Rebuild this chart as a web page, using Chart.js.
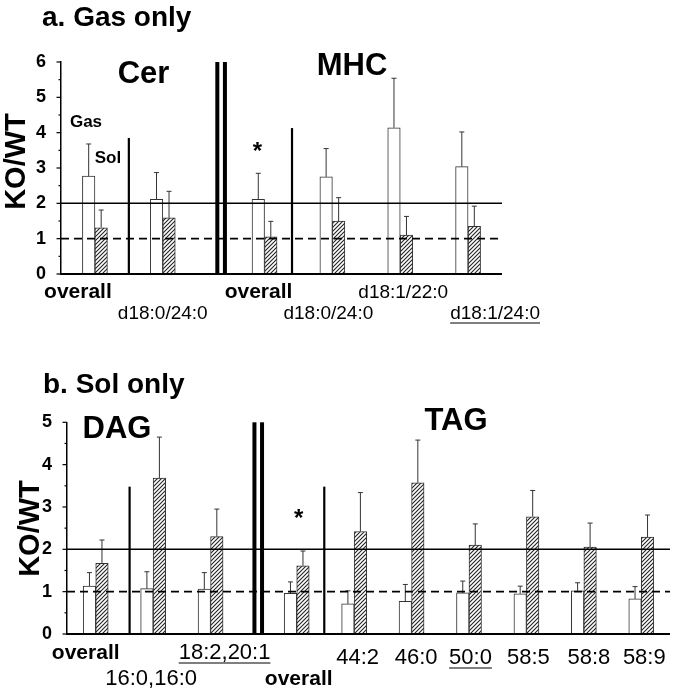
<!DOCTYPE html>
<html><head><meta charset="utf-8">
<script src="https://cdn.jsdelivr.net/npm/chart.js@4.4.0/dist/chart.umd.min.js"></script>
<style>
html,body{margin:0;padding:0;background:#fff;}
#wrap{position:relative;width:675px;height:692px;overflow:hidden;}
#wrap canvas{position:absolute;left:0;top:0;}
</style></head><body>
<div id="wrap"><canvas id="ca" width="675" height="692"></canvas><canvas id="cb" width="675" height="692"></canvas></div>
<script>
// ---------- data: panel a (Gas only) ----------
const catsA   = ['', 'overall', '', 'd18:0/24:0', '', '', 'overall', '', 'd18:0/24:0', '', 'd18:1/22:0', '', 'd18:1/24:0', ''];
const gasA    = [null, 2.77, null, 2.11, null, null, 2.11, null, 2.75, null, 4.14, null, 3.04, null];
const gasErrA = [null, 0.91, null, 0.76, null, null, 0.74, null, 0.80, null, 1.40, null, 0.98, null];
const solA    = [null, 1.31, null, 1.59, null, null, 1.05, null, 1.50, null, 1.10, null, 1.35, null];
const solErrA = [null, 0.50, null, 0.75, null, null, 0.44, null, 0.66, null, 0.53, null, 0.57, null];
const yTicksA = [0, 1, 2, 3, 4, 5, 6];

// ---------- data: panel b (Sol only) ----------
const catsB   = ['', 'overall', '', '16:0,16:0', '', '18:2,20:1', '', '', 'overall', '', '44:2', '', '46:0', '', '50:0', '', '58:5', '', '58:8', '', '58:9', ''];
const gasB    = [null, 1.13, null, 1.07, null, 1.06, null, null, 0.96, null, 0.71, null, 0.77, null, 0.97, null, 0.95, null, 1.02, null, 0.83, null];
const gasErrB = [null, 0.32, null, 0.40, null, 0.39, null, null, 0.27, null, 0.31, null, 0.40, null, 0.28, null, 0.18, null, 0.19, null, 0.29, null];
const solB    = [null, 1.67, null, 3.68, null, 2.30, null, null, 1.61, null, 2.42, null, 3.57, null, 2.10, null, 2.77, null, 2.05, null, 2.29, null];
const solErrB = [null, 0.55, null, 0.97, null, 0.65, null, null, 0.35, null, 0.92, null, 1.01, null, 0.50, null, 0.62, null, 0.57, null, 0.52, null];
const yTicksB = [0, 1, 2, 3, 4, 5];

const FF = '"Liberation Sans", Arial, Helvetica, sans-serif';

function hatch() {
  const c = document.createElement('canvas');
  c.width = 4; c.height = 4;
  const g = c.getContext('2d');
  g.fillStyle = '#fff'; g.fillRect(0, 0, 4, 4);
  g.strokeStyle = '#222'; g.lineWidth = 1.1;
  g.beginPath();
  g.moveTo(0, 4); g.lineTo(4, 0);
  g.moveTo(-1, 1); g.lineTo(1, -1);
  g.moveTo(3, 5); g.lineTo(5, 3);
  g.stroke();
  return g.createPattern(c, 'repeat');
}

function txt(ctx, s, x, y, font, align, underline) {
  ctx.save();
  ctx.font = font; ctx.fillStyle = '#000';
  ctx.textAlign = align || 'center'; ctx.textBaseline = 'alphabetic';
  ctx.fillText(s, x, y);
  if (underline) {
    const w = ctx.measureText(s).width;
    let x0 = x;
    if (ctx.textAlign === 'center') x0 = x - w / 2;
    else if (ctx.textAlign === 'right') x0 = x - w;
    ctx.strokeStyle = '#000'; ctx.lineWidth = 1.2;
    ctx.beginPath(); ctx.moveTo(x0, y + 4); ctx.lineTo(x0 + w, y + 4); ctx.stroke();
  }
  ctx.restore();
}

const decor = {
  id: 'decor',
  afterDatasetsDraw(chart, args, o) {
    const ctx = chart.ctx, xs = chart.scales.x, ys = chart.scales.y, ca = chart.chartArea;
    ctx.save();
    // error bars
    chart.data.datasets.forEach((ds, i) => {
      const meta = chart.getDatasetMeta(i);
      meta.data.forEach((bar, j) => {
        const v = ds.data[j];
        if (v == null) return;
        const yt = ys.getPixelForValue(v + ds.errors[j]);
        ctx.strokeStyle = '#333'; ctx.lineWidth = 1;
        ctx.beginPath();
        ctx.moveTo(bar.x, bar.y); ctx.lineTo(bar.x, yt);
        ctx.moveTo(bar.x - 2.5, yt); ctx.lineTo(bar.x + 2.5, yt);
        ctx.stroke();
      });
    });
    // reference lines
    ctx.strokeStyle = '#000';
    ctx.lineWidth = 1.5;
    ctx.beginPath();
    ctx.moveTo(ca.left, ys.getPixelForValue(o.solid));
    ctx.lineTo(ca.right, ys.getPixelForValue(o.solid));
    ctx.stroke();
    ctx.lineWidth = 1.8; ctx.setLineDash([8, 5]);
    ctx.beginPath();
    ctx.moveTo(ca.left, ys.getPixelForValue(o.dashed));
    ctx.lineTo(ca.right, ys.getPixelForValue(o.dashed));
    ctx.stroke();
    ctx.setLineDash([]);
    // x axis line
    ctx.lineWidth = 2;
    ctx.beginPath(); ctx.moveTo(ca.left, ca.bottom); ctx.lineTo(ca.right, ca.bottom); ctx.stroke();
    // y axis ticks (major + minor)
    ctx.lineWidth = 1.2;
    for (let v = ys.min; v <= ys.max + 1e-9; v += 0.5) {
      const yy = ys.getPixelForValue(v);
      const len = Number.isInteger(v) ? 4.5 : 2.5;
      ctx.beginPath(); ctx.moveTo(ca.left - len, yy); ctx.lineTo(ca.left, yy); ctx.stroke();
    }
    // separators
    ctx.lineWidth = 2.2;
    o.seps.forEach(s => {
      const xx = xs.getPixelForValue(s.at);
      ctx.beginPath(); ctx.moveTo(xx, ca.bottom); ctx.lineTo(xx, ys.getPixelForValue(s.top)); ctx.stroke();
    });
    // double bar
    const xd = xs.getPixelForValue(o.dbl);
    ctx.fillStyle = '#000';
    ctx.fillRect(xd - 5.8, ca.top, 4, ca.bottom - ca.top);
    ctx.fillRect(xd + 1.8, ca.top, 4, ca.bottom - ca.top);
    // asterisk
    txt(ctx, '*', xs.getPixelForValue(o.star.at) + o.star.dx, ys.getPixelForValue(o.star.value) + 9, 'bold 24px ' + FF);
    // category labels
    o.labels.forEach(l => {
      const s = chart.data.labels[l.i];
      txt(ctx, s, xs.getPixelForValue(l.i) + l.dx, o.rows[l.row], (l.bold ? 'bold 21px ' : o.labFont) + FF, 'center', l.u);
    });
    // free texts
    o.texts.forEach(t => txt(ctx, t.s, t.x, t.y, t.f + ' ' + FF, t.a || 'center'));
    // y title
    ctx.save();
    ctx.translate(o.ytitle.x, o.ytitle.y); ctx.rotate(-Math.PI / 2);
    txt(ctx, 'KO/WT', 0, 0, 'bold 29px ' + FF, 'center');
    ctx.restore();
    ctx.restore();
  }
};

function makeChart(id, cats, gas, gasErr, sol, solErr, yTicks, pad, yWidth, deco) {
  return new Chart(document.getElementById(id), {
    type: 'bar',
    data: {
      labels: cats,
      datasets: [
        { label: 'Gas', data: gas, errors: gasErr, backgroundColor: '#fff', borderColor: '#333', borderWidth: 1, barThickness: 12.5 },
        { label: 'Sol', data: sol, errors: solErr, backgroundColor: hatch(), borderColor: '#333', borderWidth: 1, barThickness: 12.5 }
      ]
    },
    options: {
      responsive: false, animation: false,
      layout: { padding: pad },
      plugins: { legend: { display: false }, tooltip: { enabled: false }, decor: deco },
      scales: {
        x: { type: 'category', display: false, offset: false },
        y: {
          min: yTicks[0], max: yTicks[yTicks.length - 1],
          afterFit(s) { s.width = yWidth; },
          afterBuildTicks(s) { s.ticks = yTicks.map(v => ({ value: v })); },
          grid: { display: false },
          border: { display: true, color: '#000', width: 1.5 },
          ticks: { color: '#000', padding: 7, font: { family: FF, size: 18, weight: 'bold' } }
        }
      }
    },
    plugins: [decor]
  });
}

makeChart('ca', catsA, gasA, gasErrA, solA, solErrA, yTicksA,
  { left: 0, right: 173, top: 62, bottom: 418 }, 61,
  {
    solid: 2, dashed: 1,
    seps: [{ at: 2.0, top: 3.85 }, { at: 6.81, top: 4.13 }],
    dbl: 4.72,
    star: { at: 6, dx: -7, value: 3.5 },
    labFont: '19px ',
    rows: [298, 319],
    labels: [
      { i: 1, dx: -17, row: 0, bold: true },
      { i: 3, dx: 0, row: 1 },
      { i: 6, dx: -6, row: 0, bold: true },
      { i: 8, dx: -4, row: 1 },
      { i: 10, dx: 3, row: 0 },
      { i: 12, dx: 27, row: 1, u: true }
    ],
    texts: [
      { s: 'a. Gas only', x: 42, y: 26, f: 'bold 28px', a: 'left' },
      { s: 'Cer', x: 143.5, y: 83, f: 'bold 31px' },
      { s: 'MHC', x: 352, y: 75, f: 'bold 31px' },
      { s: 'Gas', x: 86, y: 127, f: 'bold 17px' },
      { s: 'Sol', x: 108, y: 163, f: 'bold 17px' }
    ],
    ytitle: { x: 25, y: 161.5 }
  });

makeChart('cb', catsB, gasB, gasErrB, solB, solErrB, yTicksB,
  { left: 0, right: 5, top: 422.3, bottom: 58 }, 67,
  {
    solid: 2, dashed: 1,
    seps: [{ at: 2.18, top: 3.48 }, { at: 8.96, top: 3.48 }],
    dbl: 6.66,
    star: { at: 8, dx: 2, value: 2.77 },
    labFont: '22px ',
    rows: [659, 685, 664],
    labels: [
      { i: 1, dx: -10, row: 0, bold: true },
      { i: 3, dx: -2, row: 1 },
      { i: 5, dx: 14, row: 0, u: true },
      { i: 8, dx: 2, row: 1, bold: true },
      { i: 10, dx: 3.5, row: 2 },
      { i: 12, dx: 4.5, row: 2 },
      { i: 14, dx: 1.5, row: 2, u: true },
      { i: 16, dx: 2, row: 2 },
      { i: 18, dx: 5, row: 2 },
      { i: 20, dx: 3, row: 2 }
    ],
    texts: [
      { s: 'b. Sol only', x: 43, y: 393, f: 'bold 28px', a: 'left' },
      { s: 'DAG', x: 117, y: 438, f: 'bold 31px' },
      { s: 'TAG', x: 456, y: 430, f: 'bold 31px' }
    ],
    ytitle: { x: 39, y: 528.5 }
  });
</script>
</body></html>
